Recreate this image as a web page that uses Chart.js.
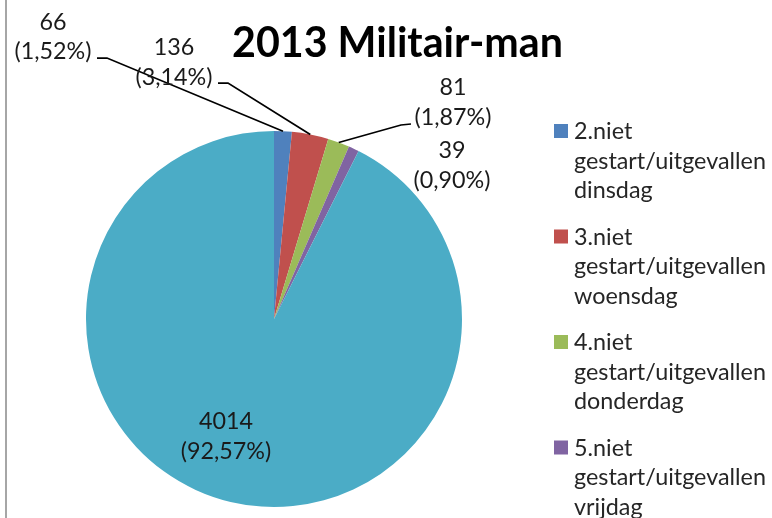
<!DOCTYPE html>
<html>
<head>
<meta charset="utf-8">
<script src="https://cdn.jsdelivr.net/npm/chart.js@4.4.0/dist/chart.umd.min.js"></script>
<style>
html,body{margin:0;padding:0;background:#fff;}
#wrap{width:772px;height:518px;position:relative;}
</style>
</head>
<body>
<div id="wrap"><canvas id="c" width="772" height="518"></canvas></div>
<script>
const titleText = "2013 Militair-man";
const categories = [
  "2.niet gestart/uitgevallen dinsdag",
  "3.niet gestart/uitgevallen woensdag",
  "4.niet gestart/uitgevallen donderdag",
  "5.niet gestart/uitgevallen vrijdag",
  "overig"
];
const legendLines = [
  ["2.niet", "gestart/uitgevallen", "dinsdag"],
  ["3.niet", "gestart/uitgevallen", "woensdag"],
  ["4.niet", "gestart/uitgevallen", "donderdag"],
  ["5.niet", "gestart/uitgevallen", "vrijdag"]
];
const values = [66, 136, 81, 39, 4014];
const colors = ["#4F81BD", "#C0504D", "#9BBB59", "#8064A2", "#4BACC6"];

// label layout: [centerX, baseline of value line]
const labelPos = [[53, 29.5], [174, 55], [453, 95], [452, 158], [226, 429]];
// leader line: label-side start and elbow (null = no leader)
const leaders = [[[97, 58], [107, 58]], [[218, 83], [228, 83]], [[411, 124], [401, 125]], null, null];

const FONT = "Lato, 'Open Sans', sans-serif";
function fitSize(ctx, text, target, weight) {
  ctx.font = weight + " 100px " + FONT;
  const w = ctx.measureText(text).width;
  return 100 * target / w;
}

const total = values.reduce((a, b) => a + b, 0);
function pct(v) { return "(" + (v / total * 100).toFixed(2).replace(".", ",") + "%)"; }

const overlay = {
  id: "overlay",
  afterDraw(chart) {
    const ctx = chart.ctx;
    ctx.save();
    // left border
    ctx.strokeStyle = "#a6a6a6";
    ctx.lineWidth = 2;
    ctx.beginPath(); ctx.moveTo(6, 0); ctx.lineTo(6, 518); ctx.stroke();

    // title
    const ts = fitSize(ctx, titleText, 331, "bold");
    ctx.font = "bold " + ts.toFixed(2) + "px " + FONT;
    ctx.fillStyle = "#000";
    ctx.textAlign = "left";
    ctx.textBaseline = "alphabetic";
    ctx.fillText(titleText, 232, 57);

    // leaders
    const meta = chart.getDatasetMeta(0);
    ctx.strokeStyle = "#000";
    ctx.lineWidth = 1.75;
    leaders.forEach((ld, i) => {
      if (!ld) return;
      const arc = meta.data[i];
      const mid = (arc.startAngle + arc.endAngle) / 2;
      const px = arc.x + Math.cos(mid) * arc.outerRadius;
      const py = arc.y + Math.sin(mid) * arc.outerRadius;
      ctx.beginPath();
      ctx.moveTo(ld[0][0], ld[0][1]);
      ctx.lineTo(ld[1][0], ld[1][1]);
      ctx.lineTo(px, py);
      ctx.stroke();
    });

    // data labels
    const ls = fitSize(ctx, "(1,52%)", 77, "normal");
    ctx.font = ls.toFixed(2) + "px " + FONT;
    ctx.fillStyle = "#1a1a1a";
    ctx.textAlign = "center";
    values.forEach((v, i) => {
      const [x, y] = labelPos[i];
      ctx.fillText(String(v), x, y);
      ctx.fillText(pct(v), x, y + 29.5);
    });

    // legend
    const gs = fitSize(ctx, "gestart/uitgevallen", 192, "normal");
    ctx.font = gs.toFixed(2) + "px " + FONT;
    ctx.textAlign = "left";
    legendLines.forEach((lines, i) => {
      const base = 139 + i * 105.5;
      ctx.fillStyle = colors[i];
      ctx.fillRect(554, base - 15, 14, 14);
      ctx.fillStyle = "#262626";
      lines.forEach((t, j) => ctx.fillText(t, 574, base + j * 29.5));
    });
    ctx.restore();
  }
};

new Chart(document.getElementById("c"), {
  type: "pie",
  data: {
    labels: categories,
    datasets: [{ data: values, backgroundColor: colors, borderWidth: 0 }]
  },
  options: {
    responsive: false,
    animation: false,
    layout: { padding: { left: 86, right: 310, top: 131, bottom: 11 } },
    plugins: { legend: { display: false }, title: { display: false }, tooltip: { enabled: false } }
  },
  plugins: [overlay]
});
</script>
</body>
</html>
